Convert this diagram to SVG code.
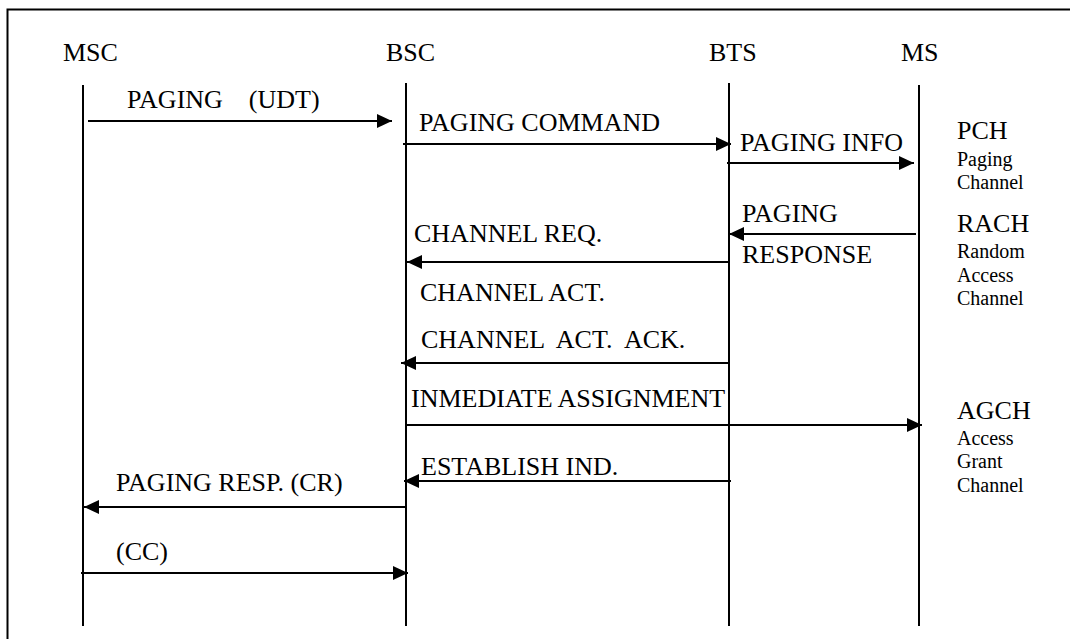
<svg xmlns="http://www.w3.org/2000/svg" width="1070" height="639" viewBox="0 0 1070 639">
<style>
.t{font-size:26px;fill:#000}
.s{font-size:20px;fill:#000}
.life{stroke:#000;stroke-width:2;fill:none}
.msg{stroke:#000;stroke-width:2;fill:none;marker-end:url(#ah)}
.frame{stroke:#000;stroke-width:2;fill:none}
</style>
<defs>
<marker id="ah" markerUnits="userSpaceOnUse" markerWidth="15" markerHeight="14" viewBox="0 0 15 14" refX="15" refY="7" orient="auto">
<path d="M0,0 L15,7 L0,14 z" fill="#000"/>
</marker>
</defs>
<rect width="1070" height="639" fill="#fff"/>
<path class="frame" d="M7.5,639 L7.5,9.5 L1070,9.5"/>
<g font-family="Liberation Serif, Tinos, Times New Roman, serif">
<g id="node-msc">
<text class="t" x="63" y="61">MSC</text>
<line class="life" x1="83" y1="85" x2="83" y2="626"/>
</g>
<g id="node-bsc">
<text class="t" x="386" y="61">BSC</text>
<line class="life" x1="406" y1="83" x2="406" y2="626"/>
</g>
<g id="node-bts">
<text class="t" x="709" y="61">BTS</text>
<line class="life" x1="729" y1="83" x2="729" y2="626"/>
</g>
<g id="node-ms">
<text class="t" x="901" y="61">MS</text>
<line class="life" x1="919" y1="85" x2="919" y2="626"/>
</g>

<g id="connectors">
<line class="msg" x1="88" y1="121" x2="392" y2="121"/>
<line class="msg" x1="403" y1="144" x2="731" y2="144"/>
<line class="msg" x1="727" y1="163" x2="914" y2="163"/>
<line class="msg" x1="916" y1="234" x2="729" y2="234"/>
<line class="msg" x1="729" y1="262" x2="407" y2="262"/>
<line class="msg" x1="729" y1="363" x2="401" y2="363"/>
<line class="msg" x1="407" y1="425" x2="922" y2="425"/>
<line class="msg" x1="731" y1="481" x2="404" y2="481"/>
<line class="msg" x1="406" y1="507" x2="84" y2="507"/>
<line class="msg" x1="81" y1="573" x2="408" y2="573"/>
</g>

<g id="labels">
<text class="t" x="127" y="108" xml:space="preserve">PAGING    (UDT)</text>
<text class="t" x="419" y="131">PAGING COMMAND</text>
<text class="t" x="740" y="151">PAGING INFO</text>
<text class="t" x="742" y="222">PAGING</text>
<text class="t" x="742" y="263">RESPONSE</text>
<text class="t" x="414" y="242">CHANNEL REQ.</text>
<text class="t" x="420" y="301">CHANNEL ACT.</text>
<text class="t" x="421" y="348" xml:space="preserve">CHANNEL  ACT.  ACK.</text>
<text class="t" x="411" y="407">INMEDIATE ASSIGNMENT</text>
<text class="t" x="421" y="475">ESTABLISH IND.</text>
<text class="t" x="116" y="491">PAGING RESP. (CR)</text>
<text class="t" x="116" y="560">(CC)</text>
</g>

<g id="channels">
<text class="t" x="957" y="139">PCH</text>
<text class="s" x="957" y="166">Paging</text>
<text class="s" x="957" y="189">Channel</text>
<text class="t" x="957" y="232">RACH</text>
<text class="s" x="957" y="258">Random</text>
<text class="s" x="957" y="282">Access</text>
<text class="s" x="957" y="305">Channel</text>
<text class="t" x="957" y="419">AGCH</text>
<text class="s" x="957" y="445">Access</text>
<text class="s" x="957" y="468">Grant</text>
<text class="s" x="957" y="492">Channel</text>
</g>
</g>
</svg>
